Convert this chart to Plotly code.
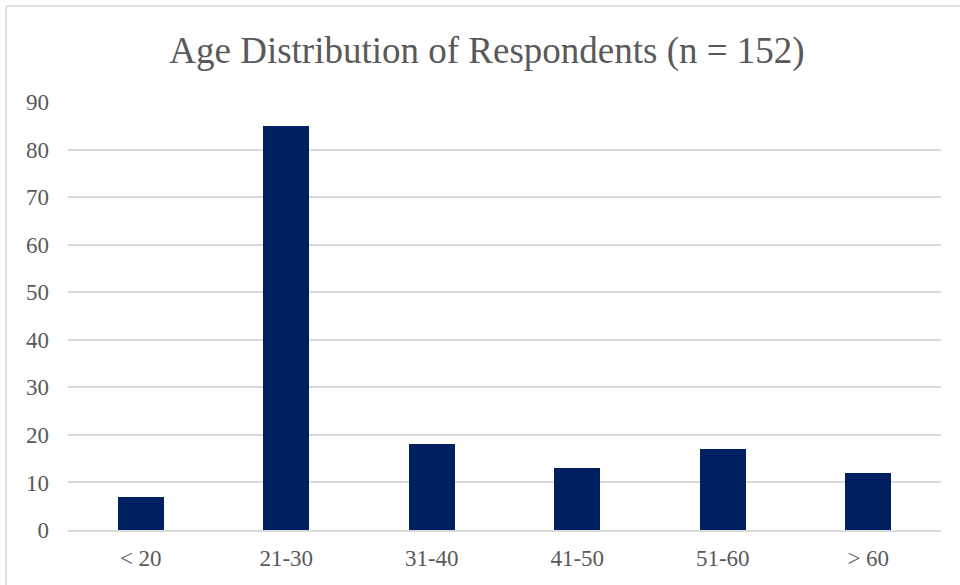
import plotly.graph_objects as go

# Respondent counts per age group
age_groups = ["< 20", "21-30", "31-40", "41-50", "51-60", "> 60"]
counts = [7, 85, 18, 13, 17, 12]
y_ticks = [0, 10, 20, 30, 40, 50, 60, 70, 80, 90]

SERIF = "Liberation Serif"
W, H = 960, 585
L, R, T, B = 68, 941, 102, 530  # plot area in pixels
pw, ph = R - L, B - T

fig = go.Figure(
    go.Bar(
        x=age_groups,
        y=counts,
        marker=dict(color="#002060", line=dict(width=0)),
        width=0.317,
    )
)

def px_x(p):
    return (p - L) / pw

def px_y(p):
    return (B - p) / ph

# thin frame around the chart area (top and left edges visible)
frame = dict(color="#d9d9d9", width=1.5)
shapes = [
    dict(type="line", xref="paper", yref="paper", x0=px_x(6), x1=px_x(962),
         y0=px_y(6), y1=px_y(6), line=frame, layer="below"),
    dict(type="line", xref="paper", yref="paper", x0=px_x(6), x1=px_x(6),
         y0=px_y(6), y1=px_y(590), line=frame, layer="below"),
]

fig.update_layout(
    width=W,
    height=H,
    margin=dict(l=L, r=W - R, t=T, b=H - B),
    paper_bgcolor="white",
    plot_bgcolor="white",
    font=dict(family=SERIF, color="#595959", size=23),
    title=dict(
        text="Age Distribution of Respondents (n = 152)",
        x=487 / W,
        xref="container",
        xanchor="center",
        y=1 - 50 / H,
        yanchor="middle",
        font=dict(family=SERIF, size=37, color="#595959"),
    ),
    xaxis=dict(
        showgrid=False,
        showline=True,
        linecolor="#d9d9d9",
        linewidth=1.5,
        ticks="",
        tickfont=dict(family=SERIF, size=23, color="#595959"),
        ticklabelstandoff=7,
    ),
    yaxis=dict(
        range=[0, 90],
        tickvals=y_ticks,
        showgrid=True,
        gridcolor="#d9d9d9",
        gridwidth=1.5,
        zeroline=False,
        showline=False,
        ticks="",
        tickfont=dict(family=SERIF, size=23, color="#595959"),
        ticklabelstandoff=18,
    ),
    shapes=shapes,
    showlegend=False,
    bargap=0,
)

fig.write_html("out.html")
